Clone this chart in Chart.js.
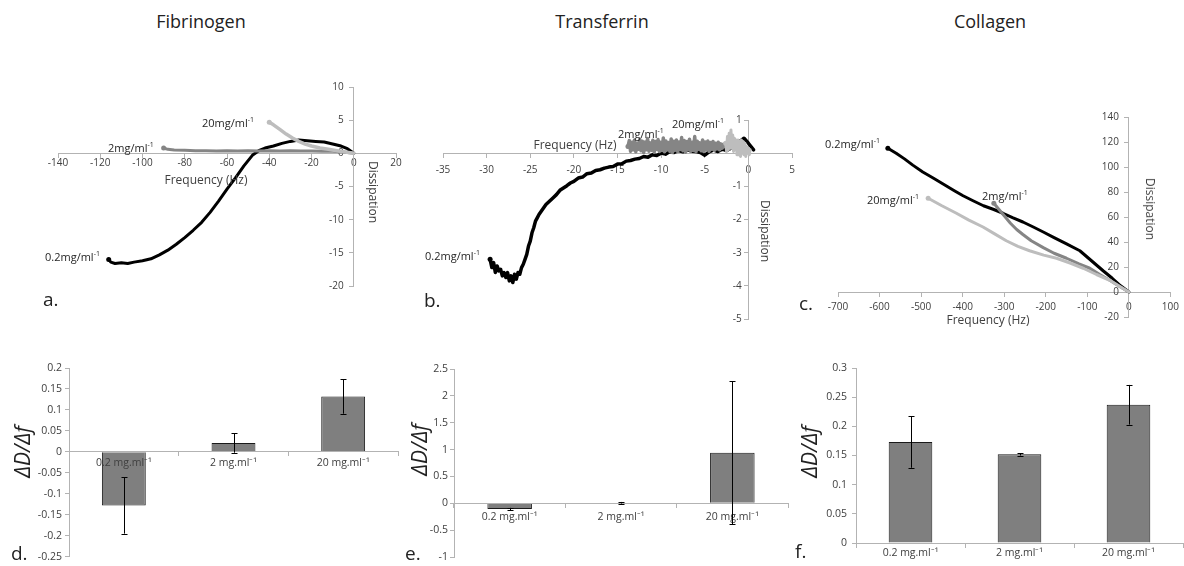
<!DOCTYPE html>
<html><head><meta charset="utf-8">
<script src="https://cdn.jsdelivr.net/npm/chart.js@4/dist/chart.umd.min.js"></script>
<style>
html,body{margin:0;padding:0;background:#fff;}
body{width:1184px;height:566px;overflow:hidden;position:relative;font-family:'Open Sans',sans-serif;color:#262626;}
canvas{position:absolute;}
.t{position:absolute;white-space:nowrap;line-height:1;}
.lab{font-size:11px;color:#262626;transform:translateY(-50%);}
.lab sup{font-size:7px;vertical-align:top;position:relative;top:-1px;}
.ax{font-size:12px;color:#404040;transform:translate(-50%,-50%);}
.ttl{font-size:18px;color:#222;transform:translate(-50%,-50%);}
.let{font-size:19px;color:#222;transform:translateY(-50%);}
.dd{font-size:21px;font-style:italic;color:#222;transform:translate(-50%,-50%) rotate(-90deg);}
</style></head>
<body>
<canvas id="ca" width="398" height="259" style="left:28px;top:57px"></canvas>
<canvas id="cb" width="409" height="259" style="left:413px;top:90px"></canvas>
<canvas id="cc" width="376" height="260" style="left:808px;top:87px"></canvas>
<canvas id="cd" width="410" height="226" style="left:0px;top:340px"></canvas>
<canvas id="ce" width="400" height="226" style="left:400px;top:340px"></canvas>
<canvas id="cf" width="384" height="226" style="left:800px;top:340px"></canvas>

<div class="t ttl" style="left:201px;top:21px">Fibrinogen</div>
<div class="t ttl" style="left:602px;top:21px">Transferrin</div>
<div class="t ttl" style="left:990px;top:21px">Collagen</div>

<div class="t lab" style="left:202px;top:122px">20mg/ml<sup>-1</sup></div>
<div class="t lab" style="left:108px;top:147px">2mg/ml<sup>-1</sup></div>
<div class="t lab" style="left:45px;top:256px">0.2mg/ml<sup>-1</sup></div>
<div class="t ax" style="left:206px;top:180px">Frequency (Hz)</div>
<div class="t ax" style="left:373px;top:192px;transform:translate(-50%,-50%) rotate(90deg)">Dissipation</div>
<div class="t let" style="left:43px;top:299px">a.</div>

<div class="t lab" style="left:618px;top:133px">2mg/ml<sup>-1</sup></div>
<div class="t lab" style="left:672px;top:123px">20mg/ml<sup>-1</sup></div>
<div class="t lab" style="left:425px;top:255px">0.2mg/ml<sup>-1</sup></div>
<div class="t ax" style="left:575px;top:145px">Frequency (Hz)</div>
<div class="t ax" style="left:765px;top:231px;transform:translate(-50%,-50%) rotate(90deg)">Dissipation</div>
<div class="t let" style="left:424px;top:300px">b.</div>

<div class="t lab" style="left:825px;top:143px">0.2mg/ml<sup>-1</sup></div>
<div class="t lab" style="left:867px;top:199px">20mg/ml<sup>-1</sup></div>
<div class="t lab" style="left:982px;top:195px">2mg/ml<sup>-1</sup></div>
<div class="t ax" style="left:988px;top:320px">Frequency (Hz)</div>
<div class="t ax" style="left:1150px;top:209px;transform:translate(-50%,-50%) rotate(90deg)">Dissipation</div>
<div class="t let" style="left:799px;top:303px">c.</div>

<div class="t dd" style="left:22px;top:452px">ΔD/Δf</div>
<div class="t let" style="left:11px;top:553px">d.</div>
<div class="t dd" style="left:419px;top:450px">ΔD/Δf</div>
<div class="t let" style="left:405px;top:553px">e.</div>
<div class="t dd" style="left:809px;top:452px">ΔD/Δf</div>
<div class="t let" style="left:795px;top:551px">f.</div>

<script>
// ---------------- Panel a: Fibrinogen (frequency Hz vs dissipation) ----------------
const aXTicks = [-140,-120,-100,-80,-60,-40,-20,0,20];
const aYTicks = [-20,-15,-10,-5,0,5,10];
const aFreq02 = [-116,-115,-113,-110,-107,-104,-100,-96,-92,-88,-84,-80,-76,-72,-68,-64,-60,-56,-52,-48,-45,-42,-38,-34,-30,-26,-22,-18,-14,-10,-6,-3,0];
const aDiss02 = [-16.0,-16.4,-16.6,-16.5,-16.6,-16.4,-16.2,-15.9,-15.3,-14.6,-13.7,-12.7,-11.6,-10.4,-8.9,-7.2,-5.4,-3.7,-1.9,-0.3,0.4,0.8,1.1,1.5,1.8,2.0,1.9,1.8,1.7,1.4,1.1,0.7,0.0];
const aFreq2 = [-90,-88,-85,-80,-75,-70,-65,-60,-55,-50,-45,-40,-35,-30,-25,-20,-15,-10,-5,-2,0];
const aDiss2 = [0.8,0.6,0.5,0.45,0.4,0.4,0.35,0.4,0.35,0.4,0.35,0.4,0.35,0.4,0.35,0.35,0.3,0.3,0.2,0.1,0.0];
const aFreq20 = [-40,-38,-35,-32,-29,-26,-23,-20,-16,-12,-8,-4,0];
const aDiss20 = [4.7,4.3,3.6,2.9,2.3,1.8,1.4,1.1,0.8,0.6,0.4,0.2,0.0];

// ---------------- Panel b: Transferrin ----------------
const bXTicks = [-35,-30,-25,-20,-15,-10,-5,0,5];
const bYTicks = [-5,-4,-3,-2,-1,0,1];
const bFreq02 = [-29.6,-29.4,-29.2,-29.0,-28.8,-28.6,-28.4,-28.2,-28.0,-27.8,-27.6,-27.4,-27.2,-27.0,-26.8,-26.6,-26.4,-26.2,-26.0,-25.8,-25.6,-25.4,-25.2,-25.0,-24.8,-24.6,-24.4,-24.2,-24.0,
  -23.6,-23.2,-22.8,-22.4,-22.0,-21.6,-21.2,-20.8,-20.4,-20.0,
  -19.5,-19.0,-18.5,-18.0,-17.5,-17.0,-16.5,-16.0,-15.5,-15.0,-14.5,-14.0,-13.5,-13.0,-12.5,-12.0,-11.5,-11.0,-10.5,-10.0,-9.5,-9.0,-8.5,-8.0,-7.5,-7.0,-6.5,-6.0,-5.5,-5.0,-4.5,-4.0,-3.5,-3.0,-2.5,-2.0,-1.5,-1.0,-0.5,0.0,0.3,0.6];
const bDiss02 = [-3.2,-3.45,-3.3,-3.6,-3.4,-3.55,-3.5,-3.7,-3.6,-3.75,-3.6,-3.85,-3.7,-3.9,-3.65,-3.8,-3.6,-3.65,-3.45,-3.35,-3.2,-3.05,-2.8,-2.65,-2.4,-2.25,-2.05,-1.95,-1.85,
  -1.7,-1.55,-1.45,-1.35,-1.25,-1.12,-1.05,-0.98,-0.9,-0.85,
  -0.75,-0.72,-0.62,-0.6,-0.52,-0.5,-0.45,-0.42,-0.4,-0.33,-0.32,-0.24,-0.22,-0.18,-0.16,-0.1,-0.12,-0.05,-0.07,0.0,-0.03,0.05,0.02,0.08,0.04,0.1,0.06,0.05,0.02,-0.06,0.04,0.1,0.05,0.12,0.08,0.15,0.2,0.35,0.45,0.3,0.2,0.1];
const bFreq2 = [-13.8,-13.65,-13.5,-13.35,-13.2,-13.05,-12.9,-12.75,-12.6,-12.45,-12.3,-12.15,-12.0,-11.85,-11.7,-11.55,-11.4,-11.25,-11.1,-10.95,
  -10.8,-10.65,-10.5,-10.35,-10.2,-10.05,-9.9,-9.75,-9.6,-9.45,-9.3,-9.15,-9.0,-8.85,-8.7,-8.55,-8.4,-8.25,-8.1,-7.95,
  -7.8,-7.65,-7.5,-7.35,-7.2,-7.05,-6.9,-6.75,-6.6,-6.45,-6.3,-6.15,-6.0,-5.85,-5.7,-5.55,-5.4,-5.25,-5.1,-4.95,
  -4.8,-4.65,-4.5,-4.35,-4.2,-4.05,-3.9,-3.75,-3.6,-3.45,-3.3,-3.15,-3.0,-2.85,-2.7];
const bDiss2 = [0.2,0.38,0.06,0.33,0.1,0.4,0.04,0.3,0.12,0.42,0.07,0.36,0.02,0.34,0.1,0.44,0.06,0.31,0.09,0.39,
  0.03,0.35,0.11,0.41,0.05,0.33,0.08,0.46,0.04,0.37,0.1,0.32,0.06,0.43,0.02,0.36,0.09,0.4,0.05,0.34,
  0.11,0.47,0.07,0.38,0.03,0.35,0.1,0.42,0.06,0.33,0.08,0.5,0.04,0.36,0.12,0.31,0.07,0.4,0.05,0.34,
  0.1,0.37,0.06,0.32,0.12,0.35,0.08,0.3,0.13,0.33,0.1,0.28,0.15,0.27,0.2];
const bFreq20 = [-2.6,-2.5,-2.4,-2.3,-2.2,-2.1,-2.0,-1.9,-1.8,-1.7,-1.6,-1.5,-1.4,-1.3,-1.2,-1.1,-1.0,-0.9,-0.8,-0.7,-0.6,-0.5,-0.4,-0.3,-0.2,-0.1,0.0,0.1,0.2];
const bDiss20 = [0.3,0.05,0.5,0.1,0.6,0.15,0.7,0.2,0.55,0.05,0.45,0.1,0.4,-0.05,0.4,0.05,0.35,-0.1,0.4,0.0,0.35,-0.05,0.3,-0.1,0.2,0.0,0.15,-0.05,0.1];

// ---------------- Panel c: Collagen ----------------
const cXTicks = [-700,-600,-500,-400,-300,-200,-100,0,100];
const cYTicks = [-20,0,20,40,60,80,100,120,140];
const cFreq02 = [-580,-560,-540,-520,-496,-470,-445,-420,-399,-375,-350,-325,-303,-280,-255,-230,-206,-180,-150,-118,-90,-62,-40,-20,0];
const cDiss02 = [115,111,106.5,101.5,96,91,86,81,77,73,69,66,63,59.5,56,52,48,43.5,38.5,33,25,17,11,5,0];
const cFreq2 = [-325,-305,-285,-270,-255,-235,-206,-180,-150,-120,-94,-70,-46,-20,0];
const cDiss2 = [71,63,55,50,46,41,35.5,31,27,22.5,19,14,9.4,4,0];
const cFreq20 = [-483,-450,-415,-385,-351,-323,-295,-267,-239,-205,-174,-140,-110,-78,-46,-20,0];
const cDiss20 = [75,69,63,57.5,52,46.5,41,36.5,33,29.5,27,23,19,14,9.4,4,0];

// ---------------- Bar panels d, e, f (ΔD/Δf) ----------------
const concLabels = ['0.2 mg.ml⁻¹','2 mg.ml⁻¹','20 mg.ml⁻¹'];
const dYTicks = [-0.25,-0.2,-0.15,-0.1,-0.05,0,0.05,0.1,0.15,0.2];
const dMeans = [-0.128,0.021,0.132];
const dErrs  = [0.067,0.023,0.041];
const eYTicks = [-1,-0.5,0,0.5,1,1.5,2,2.5];
const eMeans = [-0.105,0.01,0.943];
const eErrs  = [0.02,0.015,1.33];
const fYTicks = [0,0.05,0.1,0.15,0.2,0.25,0.3];
const fMeans = [0.173,0.152,0.237];
const fErrs  = [0.044,0.002,0.034];

// ---------------- styling / helpers ----------------
const AX = '#b3b3b3', TX = '#404040', FONT = "'Open Sans', sans-serif";
const BLACK = '#000000', DARK = '#858585', LIGHT = '#bdbdbd';
const pts = (xs, ys) => xs.map((x, i) => ({x: x, y: ys[i]}));
function lineSet(xs, ys, color, w) {
  return {data: pts(xs, ys), showLine: true, borderColor: color, backgroundColor: color,
    borderWidth: w, pointRadius: c => c.dataIndex === 0 ? 2.5 : 0, pointBorderWidth: 0,
    tension: 0, borderJoinStyle: 'round', borderCapStyle: 'round'};
}
const fmt = v => String(+(+v).toFixed(3));
function fixedTicks(arr) { return s => { s.ticks = arr.map(v => ({value: v})); }; }

function topChart(id, xt, yt, sets, pad, tk) {
  return new Chart(document.getElementById(id), {
    type: 'scatter',
    data: {datasets: sets},
    options: {
      responsive: false, animation: false, events: [],
      layout: {padding: pad},
      plugins: {legend: {display: false}, tooltip: {enabled: false}},
      scales: {
        x: {type: 'linear', position: {y: 0}, min: xt[0], max: xt[xt.length - 1],
          afterBuildTicks: fixedTicks(xt),
          ticks: {color: TX, font: {family: FONT, size: 10}, padding: tk.xp, maxRotation: 0, autoSkip: false, callback: fmt},
          grid: {drawOnChartArea: false, color: AX, tickLength: 4}, border: {color: AX}},
        y: {type: 'linear', position: {x: 0}, min: yt[0], max: yt[yt.length - 1],
          afterBuildTicks: fixedTicks(yt),
          ticks: {color: TX, font: {family: FONT, size: 10}, autoSkip: false, callback: v => fmt(v) + tk.gap},
          grid: {drawOnChartArea: false, color: AX, tickLength: 4}, border: {color: AX}}
      }
    }
  });
}

const errorBars = {
  id: 'errorBars',
  afterDraw(chart, args, opts) {
    const errs = opts.errors, means = opts.means;
    if (!errs) return;
    const meta = chart.getDatasetMeta(0), ys = chart.scales.y, ctx = chart.ctx;
    ctx.save();
    ctx.strokeStyle = '#000'; ctx.lineWidth = 1;
    meta.data.forEach((el, i) => {
      const x = Math.round(el.x) + 0.5;
      const yt = ys.getPixelForValue(means[i] + errs[i]);
      const yb = ys.getPixelForValue(means[i] - errs[i]);
      ctx.beginPath();
      ctx.moveTo(x, yt); ctx.lineTo(x, yb);
      ctx.moveTo(x - 3, Math.round(yt) + 0.5); ctx.lineTo(x + 3, Math.round(yt) + 0.5);
      ctx.moveTo(x - 3, Math.round(yb) + 0.5); ctx.lineTo(x + 3, Math.round(yb) + 0.5);
      ctx.stroke();
    });
    ctx.restore();
  }
};

function barChart(id, yt, means, errs, pad, yWidth, tk) {
  return new Chart(document.getElementById(id), {
    type: 'bar',
    data: {labels: concLabels, datasets: [{data: means, backgroundColor: '#7f7f7f', borderColor: '#1a1a1a',
      borderWidth: 1, barPercentage: 0.4, categoryPercentage: 1}]},
    plugins: [errorBars],
    options: {
      responsive: false, animation: false, events: [],
      layout: {padding: pad},
      plugins: {legend: {display: false}, tooltip: {enabled: false}, errorBars: {errors: errs, means: means}},
      scales: {
        x: {position: {y: 0},
          ticks: {z: 1, color: TX, font: {family: FONT, size: 10.5}, padding: tk.xp, maxRotation: 0, autoSkip: false},
          grid: {offset: true, drawOnChartArea: false, color: AX, tickLength: tk.xl}, border: {color: AX, z: 1}},
        y: {type: 'linear', position: 'left', min: yt[0], max: yt[yt.length - 1],
          afterBuildTicks: fixedTicks(yt),
          afterFit: s => { s.width = yWidth; },
          ticks: {color: TX, font: {family: FONT, size: 10.5}, padding: tk.yp, autoSkip: false, callback: fmt},
          grid: {drawOnChartArea: false, color: AX, tickLength: 4}, border: {color: AX}}
      }
    }
  });
}

topChart('ca', aXTicks, aYTicks, [
  lineSet(aFreq20, aDiss20, LIGHT, 3.5),
  lineSet(aFreq2, aDiss2, DARK, 3),
  lineSet(aFreq02, aDiss02, BLACK, 3)
], {left: 30, right: 30, top: 30, bottom: 30}, {xp: 0, gap: '\u2003'});

topChart('cb', bXTicks, bYTicks, [
  lineSet(bFreq20, bDiss20, LIGHT, 3),
  lineSet(bFreq2, bDiss2, DARK, 3.5),
  lineSet(bFreq02, bDiss02, BLACK, 3.5)
], {left: 30, right: 30, top: 30, bottom: 30}, {xp: 7, gap: '\u2002\u2009'});

topChart('cc', cXTicks, cYTicks, [
  lineSet(cFreq20, cDiss20, LIGHT, 3),
  lineSet(cFreq2, cDiss2, DARK, 3),
  lineSet(cFreq02, cDiss02, BLACK, 3)
], {left: 30, right: 13, top: 30, bottom: 30}, {xp: 5, gap: '\u2003'});

barChart('cd', dYTicks, dMeans, dErrs, {left: 0, right: 12, top: 28, bottom: 9}, 69, {xp: 1, xl: 4, yp: 3});
barChart('ce', eYTicks, eMeans, eErrs, {left: 0, right: 12, top: 29, bottom: 9}, 54, {xp: 3, xl: 4, yp: 2});
barChart('cf', fYTicks, fMeans, fErrs, {left: 0, right: 1, top: 28, bottom: 23}, 56, {xp: 0, xl: 4, yp: 5});
</script>
</body></html>
